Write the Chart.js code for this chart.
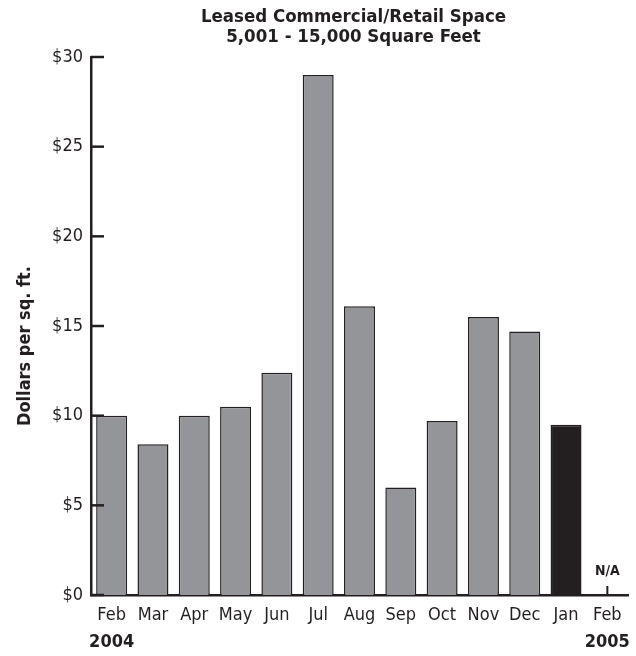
<!DOCTYPE html>
<html>
<head>
<meta charset="utf-8">
<script src="https://cdn.jsdelivr.net/npm/chart.js@4.4.1/dist/chart.umd.min.js"></script>
<style>
  html, body { margin: 0; padding: 0; background: #fff; }
  #wrap { width: 636px; height: 656px; }
</style>
</head>
<body>
<div id="wrap"><canvas id="c" width="636" height="656"></canvas></div>
<script>
const months = ['Feb', 'Mar', 'Apr', 'May', 'Jun', 'Jul', 'Aug', 'Sep', 'Oct', 'Nov', 'Dec', 'Jan', 'Feb'];
const years = ['2004', '', '', '', '', '', '', '', '', '', '', '', '2005'];
const dollarsPerSqFt = [10.0, 8.4, 10.0, 10.5, 12.4, 29.0, 16.1, 6.0, 9.7, 15.5, 14.7, 9.5, null];
const naLabel = 'N/A';
const titleLines = ['Leased Commercial/Retail Space', '5,001 - 15,000 Square Feet'];
const yTitle = 'Dollars per sq. ft.';
const yMin = 0, yMax = 30, yStep = 5;
const latestIndex = 11;

const INK = '#231f20';
const GRAY = '#939598';
const FONT = "'Liberation Sans Narrow', 'DejaVu Sans Condensed', 'Arial Narrow', sans-serif";

// extra drawing: title, rotated axis title, inward y ticks, N/A marker
const decor = {
  id: 'decor',
  afterDraw(chart) {
    const { ctx, chartArea, scales } = chart;
    ctx.save();
    ctx.fillStyle = INK;
    ctx.strokeStyle = INK;
    ctx.textAlign = 'center';
    ctx.textBaseline = 'middle';

    ctx.font = 'bold 18.5px ' + FONT;
    const cx = (chartArea.left + chartArea.right) / 2 - 6;
    titleLines.forEach((line, i) => ctx.fillText(line, cx, 17 + i * 20));

    ctx.save();
    ctx.translate(25, (chartArea.top + chartArea.bottom) / 2 + 20);
    ctx.rotate(-Math.PI / 2);
    ctx.font = 'bold 18px ' + FONT;
    ctx.fillText(yTitle, 0, 0);
    ctx.restore();

    ctx.lineWidth = 2.5;
    scales.y.ticks.forEach(t => {
      const y = scales.y.getPixelForValue(t.value);
      ctx.beginPath();
      ctx.moveTo(chartArea.left, y);
      ctx.lineTo(chartArea.left + 13, y);
      ctx.stroke();
    });

    dollarsPerSqFt.forEach((v, i) => {
      if (v !== null) return;
      const x = scales.x.getPixelForValue(i);
      ctx.lineWidth = 2;
      ctx.beginPath();
      ctx.moveTo(x, chartArea.bottom - 9);
      ctx.lineTo(x, chartArea.bottom);
      ctx.stroke();
      ctx.font = 'bold 14px ' + FONT;
      ctx.fillText(naLabel, x, chartArea.bottom - 24);
    });
    ctx.restore();
  }
};

new Chart(document.getElementById('c'), {
  type: 'bar',
  data: {
    labels: months,
    datasets: [{
      data: dollarsPerSqFt,
      backgroundColor: c => c.dataIndex === latestIndex ? INK : GRAY,
      borderColor: INK,
      borderWidth: 1.5,
      borderSkipped: 'bottom',
      categoryPercentage: 1,
      barPercentage: 0.75
    }]
  },
  options: {
    responsive: false,
    animation: false,
    layout: { padding: { top: 57, right: 8, left: 0, bottom: 0 } },
    plugins: { legend: { display: false }, title: { display: false }, tooltip: { enabled: false } },
    scales: {
      x: {
        position: 'bottom',
        grid: { display: false, drawTicks: false },
        border: { display: true, color: INK, width: 2.5 },
        ticks: { color: INK, font: { family: FONT, size: 18 }, padding: 10, maxRotation: 0, autoSkip: false },
        afterFit: s => { s.height = 32; }
      },
      x2: {
        type: 'category',
        labels: years,
        position: 'bottom',
        offset: true,
        grid: { display: false, drawTicks: false },
        border: { display: false },
        ticks: { color: INK, font: { family: FONT, size: 18, weight: 'bold' }, padding: 5, maxRotation: 0, autoSkip: false },
        afterFit: s => { s.height = 29; }
      },
      y: {
        min: yMin,
        max: yMax,
        grid: { display: false, drawTicks: false },
        border: { display: true, color: INK, width: 2.5 },
        ticks: { stepSize: yStep, color: INK, padding: 8, font: { family: FONT, size: 18 }, callback: v => '$' + v },
        afterFit: s => { s.width = 91; }
      }
    }
  },
  plugins: [decor]
});
</script>
</body>
</html>
